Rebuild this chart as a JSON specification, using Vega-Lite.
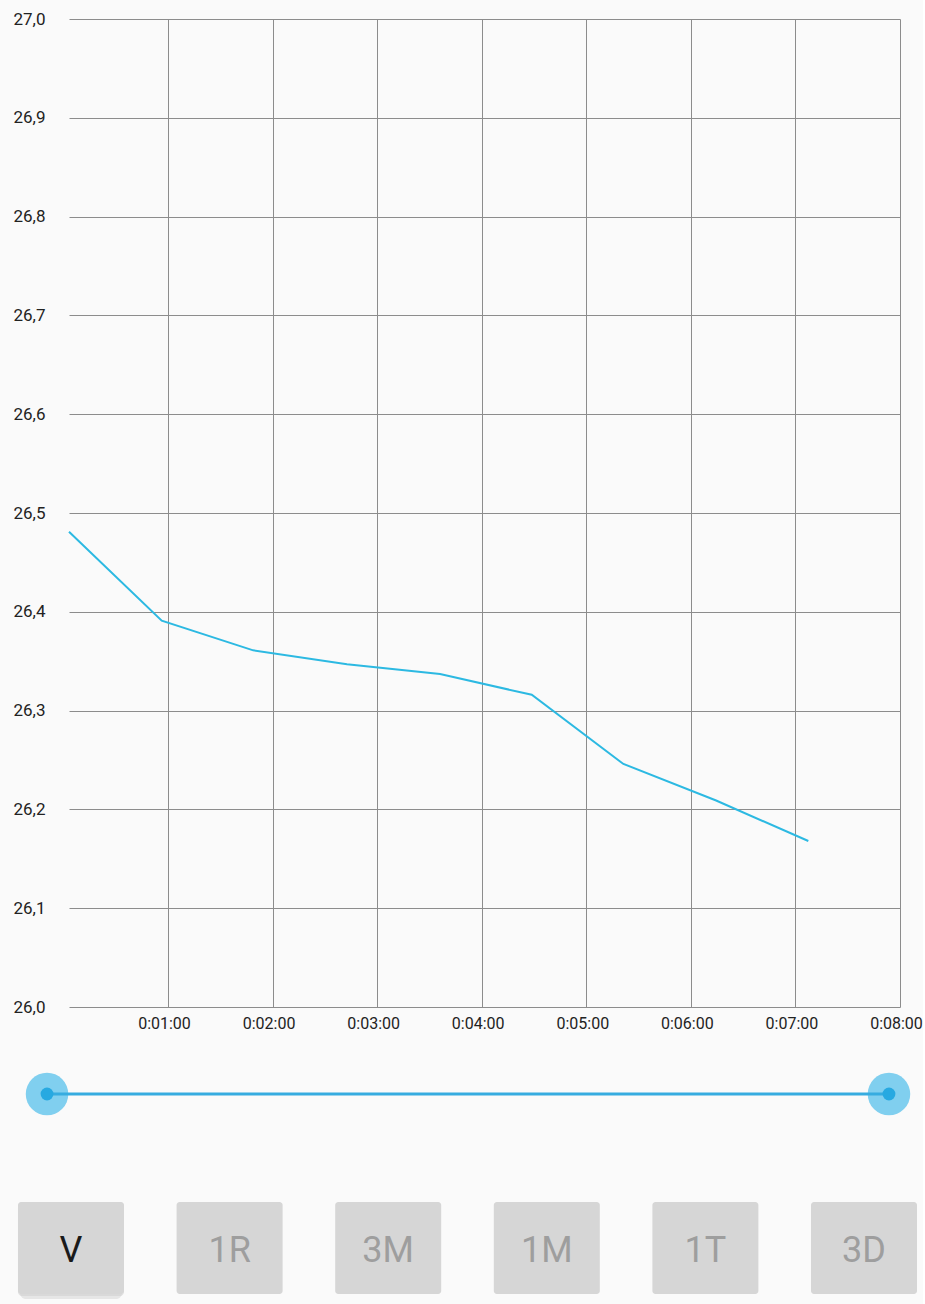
{
  "$schema": "https://vega.github.io/schema/vega-lite/v6.json",
  "background": "#fafafa",
  "padding": {"left": 12, "top": 10, "right": 0, "bottom": 0},
  "config": {"view": {"stroke": null}, "font": "Roboto"},
  "spacing": 10,
  "resolve": {"scale": {"x": "independent", "y": "independent"}},
  "vconcat": [
    {
      "width": 831,
      "height": 988,
      "data": {"values": [
        {"seconds": 3.2, "temp": 26.481},
        {"seconds": 56.4, "temp": 26.391},
        {"seconds": 108.9, "temp": 26.361},
        {"seconds": 162.7, "temp": 26.347},
        {"seconds": 216.1, "temp": 26.337},
        {"seconds": 268.7, "temp": 26.316},
        {"seconds": 321.3, "temp": 26.246},
        {"seconds": 374.5, "temp": 26.209},
        {"seconds": 427.4, "temp": 26.168}
      ]},
      "mark": {"type": "line", "color": "#2cb9e2", "strokeWidth": 2},
      "encoding": {
        "x": {
          "field": "seconds", "type": "quantitative",
          "scale": {"domain": [3.2, 480], "nice": false, "zero": false},
          "axis": {
            "title": null, "values": [60, 120, 180, 240, 300, 360, 420, 480],
            "labelExpr": "'0:0' + floor(datum.value / 60) + ':00'",
            "grid": true, "gridColor": "#8c8c8c", "gridWidth": 1, "ticks": false, "domain": false,
            "labelFontSize": 16, "labelColor": "#222222", "labelPadding": 8, "labelOffset": -4,
            "labelFlush": false, "labelOverlap": false
          }
        },
        "y": {
          "field": "temp", "type": "quantitative",
          "scale": {"domain": [26, 27], "nice": false, "zero": false},
          "axis": {
            "title": null, "values": [26, 26.1, 26.2, 26.3, 26.4, 26.5, 26.6, 26.7, 26.8, 26.9, 27],
            "labelExpr": "replace(format(datum.value, '.1f'), '.', ',')",
            "grid": true, "gridColor": "#8c8c8c", "gridWidth": 1, "ticks": false, "domain": false,
            "labelFontSize": 17, "labelColor": "#222222", "labelPadding": 24,
            "labelOverlap": false, "labelFlush": false
          }
        }
      }
    },
    {
      "width": 831,
      "height": 110,
      "data": {"values": [
        {"pos": 0, "level": 0.518},
        {"pos": 1, "level": 0.518}
      ]},
      "encoding": {
        "x": {"field": "pos", "type": "quantitative", "scale": {"domain": [0.0261, 1.0131], "nice": false, "zero": false}, "axis": null},
        "y": {"field": "level", "type": "quantitative", "scale": {"domain": [0, 1], "nice": false, "zero": false}, "axis": null}
      },
      "layer": [
        {"mark": {"type": "circle", "color": "#80cfef", "opacity": 1, "size": 1810}},
        {"mark": {"type": "line", "color": "#36ace0", "strokeWidth": 3}},
        {"mark": {"type": "circle", "color": "#27a9e1", "opacity": 1, "size": 165}}
      ]
    },
    {
      "width": 831,
      "height": 143,
      "data": {"values": [
        {"label": "V", "idx": 0, "state": "selected", "row": 0.392},
        {"label": "1R", "idx": 1, "state": "unselected", "row": 0.392},
        {"label": "3M", "idx": 2, "state": "unselected", "row": 0.392},
        {"label": "1M", "idx": 3, "state": "unselected", "row": 0.392},
        {"label": "1T", "idx": 4, "state": "unselected", "row": 0.392},
        {"label": "3D", "idx": 5, "state": "unselected", "row": 0.392}
      ]},
      "encoding": {
        "x": {"field": "idx", "type": "quantitative", "scale": {"domain": [-0.0126, 5.227], "nice": false, "zero": false}, "axis": null},
        "y": {"field": "row", "type": "quantitative", "scale": {"domain": [0, 1], "nice": false, "zero": false}, "axis": null}
      },
      "layer": [
        {
          "transform": [{"filter": "datum.state === 'selected'"}],
          "mark": {"type": "rect", "width": 102, "height": 92, "cornerRadius": 6, "color": "#c8c8c8", "opacity": 0.4, "yOffset": 5}
        },
        {
          "transform": [{"filter": "datum.state === 'selected'"}],
          "mark": {"type": "rect", "width": 106, "height": 92, "cornerRadius": 4, "color": "#cccccc", "opacity": 0.5, "yOffset": 2}
        },
        {
          "mark": {"type": "rect", "width": 106, "height": 92, "cornerRadius": 3, "color": "#d6d6d6", "opacity": 1}
        },
        {
          "mark": {"type": "text", "fontSize": 36, "baseline": "middle", "align": "center", "dy": 3},
          "encoding": {
            "text": {"field": "label"},
            "color": {"field": "state", "type": "nominal", "scale": {"domain": ["selected", "unselected"], "range": ["#1a1a1a", "#9e9e9e"]}, "legend": null}
          }
        }
      ]
    }
  ]
}
